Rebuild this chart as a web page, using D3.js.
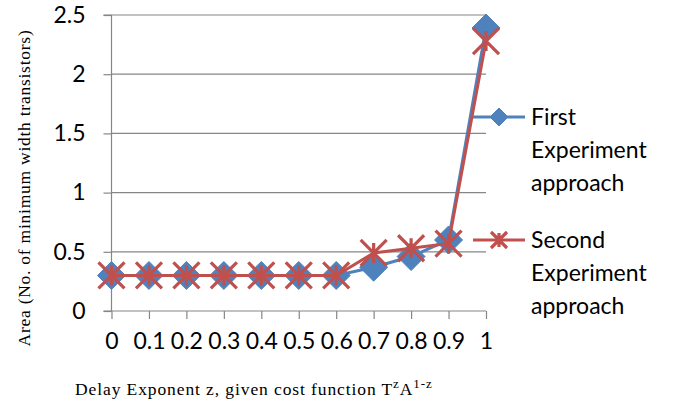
<!DOCTYPE html>
<html><head><meta charset="utf-8">
<script src="https://cdn.jsdelivr.net/npm/d3@7"></script>
<style>body{margin:0;background:#fff}svg{display:block}</style>
</head><body>
<svg id="c" width="673" height="410"></svg>
<script>
const categories = ["0","0.1","0.2","0.3","0.4","0.5","0.6","0.7","0.8","0.9","1"];
const firstApproach  = [0.3,0.3,0.3,0.3,0.3,0.3,0.3,0.37,0.46,0.6,2.39];
const secondApproach = [0.3,0.3,0.3,0.3,0.3,0.3,0.3,0.49,0.53,0.57,2.28];
const yTicks = [0,0.5,1,1.5,2,2.5];
const seriesNames = ["First Experiment approach","Second Experiment approach"];

const svg = d3.select("#c");
const blue = "#4F81BD", red = "#C0504D", axisGray = "#868686";
const sans = "Lato, 'Open Sans', sans-serif";
const serif = "'Liberation Serif', 'Times New Roman', serif";

const x = d3.scalePoint().domain(categories).range([111.5, 486]).padding(0);
const y = d3.scaleLinear().domain([0,2.5]).range([311, 15]);

// gridlines
svg.append("g").selectAll("line").data(yTicks.filter(d=>d>0)).join("line")
  .attr("x1", x.range()[0]).attr("x2", x.range()[1])
  .attr("y1", d=>y(d)).attr("y2", d=>y(d))
  .attr("stroke", axisGray).attr("stroke-width", 1.2);

// y axis
const ya = svg.append("g").attr("transform", `translate(${x.range()[0]},0)`)
  .call(d3.axisLeft(y).tickValues(yTicks).tickSize(8).tickPadding(18).tickFormat(d3.format("")));
ya.select(".domain").attr("stroke", axisGray).attr("stroke-width",1.2).attr("d", `M-8,${y(2.5)}H0V${y(0)}H-8`);
ya.selectAll(".tick line").attr("stroke", axisGray).attr("stroke-width",1.2);
ya.selectAll(".tick text").attr("font-family", sans).attr("font-size", 23).attr("fill","#000");

// x axis
const xa = svg.append("g").attr("transform", `translate(0,${y(0)})`)
  .call(d3.axisBottom(x).tickSize(8).tickPadding(14));
xa.select(".domain").attr("stroke", axisGray).attr("stroke-width",1.2).attr("d", `M${x.range()[0]},0H${x.range()[1]}`);
xa.selectAll(".tick line").attr("stroke", axisGray).attr("stroke-width",1.2);
xa.selectAll(".tick text").attr("font-family", sans).attr("font-size", 23).attr("fill","#000");

// lines
const line = d3.line().x((d,i)=>x(categories[i])).y(d=>y(d));
svg.append("path").datum(firstApproach).attr("d", line).attr("fill","none").attr("stroke", blue).attr("stroke-width",3);

function diamond(g, cx, cy, r){
  g.append("path").attr("d", `M${cx},${cy-r}L${cx+r},${cy}L${cx},${cy+r}L${cx-r},${cy}Z`)
   .attr("fill", blue).attr("stroke", blue).attr("stroke-width",1).attr("stroke-linejoin","round");
}
function star(g, cx, cy, r, v){
  g.append("path").attr("d", `M${cx-r},${cy-r}L${cx+r},${cy+r}M${cx-r},${cy+r}L${cx+r},${cy-r}M${cx},${cy-v}V${cy+v}`)
   .attr("fill","none").attr("stroke", red).attr("stroke-width",3.2);
}
const m1 = svg.append("g");
firstApproach.forEach((d,i)=>diamond(m1, x(categories[i]), y(d), 14));

svg.append("path").datum(secondApproach).attr("d", line).attr("fill","none").attr("stroke", red).attr("stroke-width",3);
const m2 = svg.append("g");
secondApproach.forEach((d,i)=>star(m2, x(categories[i]), y(d), 13, 10));

// legend
const leg = svg.append("g");
const legY = [117, 240];
legY.forEach((ly, k)=>{
  leg.append("line").attr("x1",473).attr("x2",525).attr("y1",ly).attr("y2",ly)
    .attr("stroke", k===0?blue:red).attr("stroke-width",3);
  if(k===0) diamond(leg, 499, ly, 9); else star(leg, 499, ly, 8, 7);
  const words = seriesNames[k].split(" ");
  const t = leg.append("text").attr("x",531).attr("y",ly).attr("font-family",sans).attr("font-size",23).attr("fill","#000");
  words.forEach((w,j)=>t.append("tspan").attr("x",531).attr("dy", j===0?"0.35em":"33px").text(w));
});

// axis titles
svg.append("text").attr("transform","translate(30,188) rotate(-90)").attr("text-anchor","middle")
  .attr("font-family", serif).attr("font-size",17.5).attr("letter-spacing",0.75).attr("fill","#000")
  .text("Area (No. of minimum width transistors)");

const xt = svg.append("text").attr("x",75).attr("y",395).attr("font-family", serif).attr("font-size",17.5).attr("letter-spacing",0.9).attr("fill","#000");
xt.append("tspan").text("Delay Exponent z, given cost function T");
xt.append("tspan").attr("dy",-7).attr("font-size",13).text("z");
xt.append("tspan").attr("dy",7).text("A");
xt.append("tspan").attr("dy",-7).attr("font-size",13).text("1-z");
</script>
</body></html>
